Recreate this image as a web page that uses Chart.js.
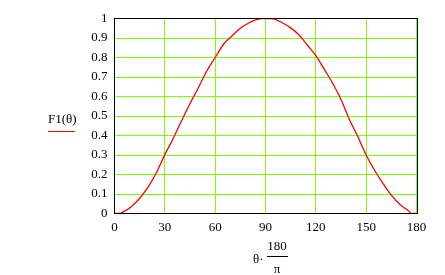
<!DOCTYPE html>
<html>
<head>
<meta charset="utf-8">
<script src="https://cdn.jsdelivr.net/npm/chart.js@4/dist/chart.umd.min.js"></script>
<style>
  html, body { margin: 0; padding: 0; background: #fff; }
  #wrap { width: 445px; height: 275px; position: relative; }
</style>
</head>
<body>
<div id="wrap"><canvas id="plot" width="445" height="275"></canvas></div>
<script>
// angle in degrees (theta * 180 / pi)
const angles = [0, 3, 5, 10, 15, 20, 25, 30, 35, 40, 45, 50, 55, 60, 65, 70, 75, 80, 85, 87, 90, 93, 95,
                100, 105, 110, 115, 120, 125, 130, 135, 140, 145, 150, 155, 160, 165, 170, 175, 177, 180];
// F1(theta)
const f1Values = [0, 0, 0.008, 0.035, 0.078, 0.135, 0.21, 0.302, 0.385, 0.476, 0.564, 0.645, 0.731, 0.8, 0.868, 0.91, 0.95, 0.977, 0.995, 1, 1, 1, 0.998,
                  0.978, 0.952, 0.915, 0.863, 0.81, 0.74, 0.668, 0.585, 0.482, 0.395, 0.3, 0.222, 0.155, 0.094, 0.047, 0.015, 0, 0];

const xTicks = [0, 30, 60, 90, 120, 150, 180];
const yTicks = ['0', '0.1', '0.2', '0.3', '0.4', '0.5', '0.6', '0.7', '0.8', '0.9', '1'];

const GRID = '#80ff00';
const TICK_FONT = { family: 'Liberation Serif', size: 13 };

// green grid drawn on whole pixels, under the curve
const gridPlugin = {
    id: 'mcgrid',
    beforeDatasetsDraw(chart) {
        const { ctx, chartArea: a, scales } = chart;
        ctx.save();
        ctx.strokeStyle = GRID;
        ctx.lineWidth = 1;
        ctx.beginPath();
        xTicks.forEach(v => {
            if (v === 0) return;
            const px = Math.floor(scales.x.getPixelForValue(v) - 0.01) + 0.5;
            ctx.moveTo(px, a.top);
            ctx.lineTo(px, a.bottom);
        });
        yTicks.forEach(t => {
            const v = parseFloat(t);
            if (v === 0 || v === 1) return;
            const py = Math.floor(scales.y.getPixelForValue(v)) + 0.5;
            ctx.moveTo(a.left, py);
            ctx.lineTo(a.right, py);
        });
        ctx.stroke();
        ctx.restore();
    },
    // black frame around the plot + axis titles like the mathcad graph
    afterDraw(chart) {
        const { ctx, chartArea: a } = chart;
        ctx.save();
        ctx.strokeStyle = '#000';
        ctx.lineWidth = 1;
        ctx.strokeRect(Math.floor(a.left) + 0.5, Math.floor(a.top) + 0.5,
            Math.floor(a.right) + 1 - Math.floor(a.left), Math.floor(a.bottom) - Math.floor(a.top));

        ctx.fillStyle = '#000';
        ctx.font = '13px "Liberation Serif"';
        ctx.textBaseline = 'alphabetic';
        ctx.textAlign = 'left';
        // y title with red legend line
        ctx.fillText('F1(θ)', 48, 123);
        ctx.strokeStyle = '#ff0000';
        ctx.beginPath();
        ctx.moveTo(48, 131.5);
        ctx.lineTo(75, 131.5);
        ctx.stroke();

        // x title: θ·180/π
        ctx.fillText('θ·', 253, 263);
        ctx.textAlign = 'center';
        ctx.fillText('180', 277, 250);
        ctx.strokeStyle = '#000';
        ctx.beginPath();
        ctx.moveTo(267, 256.5);
        ctx.lineTo(288, 256.5);
        ctx.stroke();
        ctx.fillText('π', 277, 273);
        ctx.restore();
    }
};

new Chart(document.getElementById('plot'), {
    type: 'line',
    data: {
        datasets: [{
            data: angles.map((a, i) => ({ x: a, y: f1Values[i] })),
            borderColor: '#ff0000',
            borderWidth: 1.3,
            pointRadius: 0,
            cubicInterpolationMode: 'monotone',
            fill: false
        }]
    },
    options: {
        responsive: false,
        animation: false,
        devicePixelRatio: 1,
        layout: { padding: { left: 0, top: 18.5, right: 28.5, bottom: 0 } },
        plugins: { legend: { display: false }, tooltip: { enabled: false } },
        scales: {
            x: {
                type: 'linear',
                min: 0, max: 180,
                afterFit: s => { s.height = 61.5; },
                afterBuildTicks: s => { s.ticks = xTicks.map(v => ({ value: v })); },
                ticks: { color: '#000', font: TICK_FONT, padding: 6, maxRotation: 0, autoSkip: false },
                grid: { display: false, drawTicks: false },
                border: { display: false }
            },
            y: {
                min: 0, max: 1,
                afterFit: s => { s.width = 114.5; },
                afterBuildTicks: s => { s.ticks = yTicks.map(v => ({ value: parseFloat(v) })); },
                ticks: {
                    color: '#000', font: TICK_FONT, padding: 7, autoSkip: false,
                    callback: (v, i) => yTicks[i]
                },
                grid: { display: false, drawTicks: false },
                border: { display: false }
            }
        }
    },
    plugins: [gridPlugin]
});
</script>
</body>
</html>
